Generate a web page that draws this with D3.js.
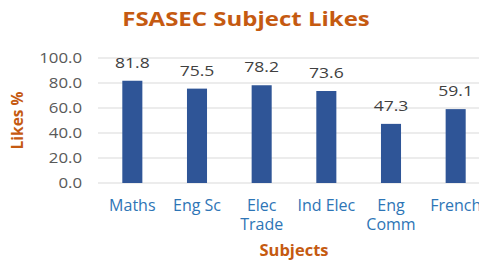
<!DOCTYPE html>
<html><head><meta charset="utf-8">
<script src="https://cdn.jsdelivr.net/npm/d3@7"></script>
<style>html,body{margin:0;padding:0;background:#fff;overflow:hidden}</style>
</head><body>
<svg id="c" width="479" height="261"></svg>
<script>
const categories = ["Maths", "Eng Sc", "Elec\nTrade", "Ind Elec", "Eng\nComm", "French"];
const values = [81.8, 75.5, 78.2, 73.6, 47.3, 59.1];
const yTicks = [0, 20, 40, 60, 80, 100];
const title = "FSASEC Subject Likes";
const yTitle = "Likes %";
const xTitle = "Subjects";

const svg = d3.select("#c");
const font = "'Open Sans', sans-serif";
const x = d3.scaleBand().domain(categories).range([100, 488]).paddingInner(0.69).paddingOuter(0.345);
const y = d3.scaleLinear().domain([0, 100]).range([183, 58]);

svg.append("text").attr("transform", "translate(246,26) scale(1.2,1)").attr("text-anchor", "middle")
  .attr("font-family", font).attr("font-weight", "bold").attr("font-size", 20)
  .attr("fill", "#C55A11").text(title);

// gridlines
svg.append("g").selectAll("line").data(yTicks).join("line")
  .attr("x1", 98).attr("x2", 490).attr("y1", d => y(d)).attr("y2", d => y(d))
  .attr("stroke", "#D9D9D9").attr("stroke-width", 1);

// y tick labels
svg.append("g").selectAll("text").data(yTicks).join("text")
  .attr("transform", d => `translate(82,${y(d)}) scale(1.2,1)`).attr("dy", "0.36em").attr("text-anchor", "end")
  .attr("font-family", font).attr("font-size", 14).attr("fill", "#595959")
  .text(d => d.toFixed(1));

// bars
svg.append("g").selectAll("rect").data(values).join("rect")
  .attr("x", (d, i) => x(categories[i])).attr("width", x.bandwidth())
  .attr("y", d => y(d)).attr("height", d => y(0) - y(d))
  .attr("fill", "#2F5597");

// value labels
svg.append("g").selectAll("text").data(values).join("text")
  .attr("transform", (d, i) => `translate(${x(categories[i]) + x.bandwidth() / 2},${y(d) - 13}) scale(1.17,1)`)
  .attr("text-anchor", "middle").attr("font-family", font).attr("font-size", 15)
  .attr("fill", "#404040").text(d => d.toFixed(1));

// category labels
const cl = svg.append("g").selectAll("text").data(categories).join("text")
  .attr("x", d => x(d) + x.bandwidth() / 2).attr("y", 211)
  .attr("text-anchor", "middle").attr("font-family", font).attr("font-size", 16)
  .attr("fill", "#2E75B6");
cl.each(function(d) {
  const t = d3.select(this);
  d.split("\n").forEach((line, i) => {
    t.append("tspan").attr("x", x(d) + x.bandwidth() / 2).attr("dy", i === 0 ? 0 : 19).text(line);
  });
});

// axis titles
svg.append("text").attr("transform", "translate(23,120.5) rotate(-90)").attr("text-anchor", "middle")
  .attr("font-family", font).attr("font-weight", "bold").attr("font-size", 15.5)
  .attr("fill", "#C55A11").text(yTitle);
svg.append("text").attr("x", 294).attr("y", 256).attr("text-anchor", "middle")
  .attr("font-family", font).attr("font-weight", "bold").attr("font-size", 16.5)
  .attr("fill", "#C55A11").text(xTitle);
</script>
</body></html>
